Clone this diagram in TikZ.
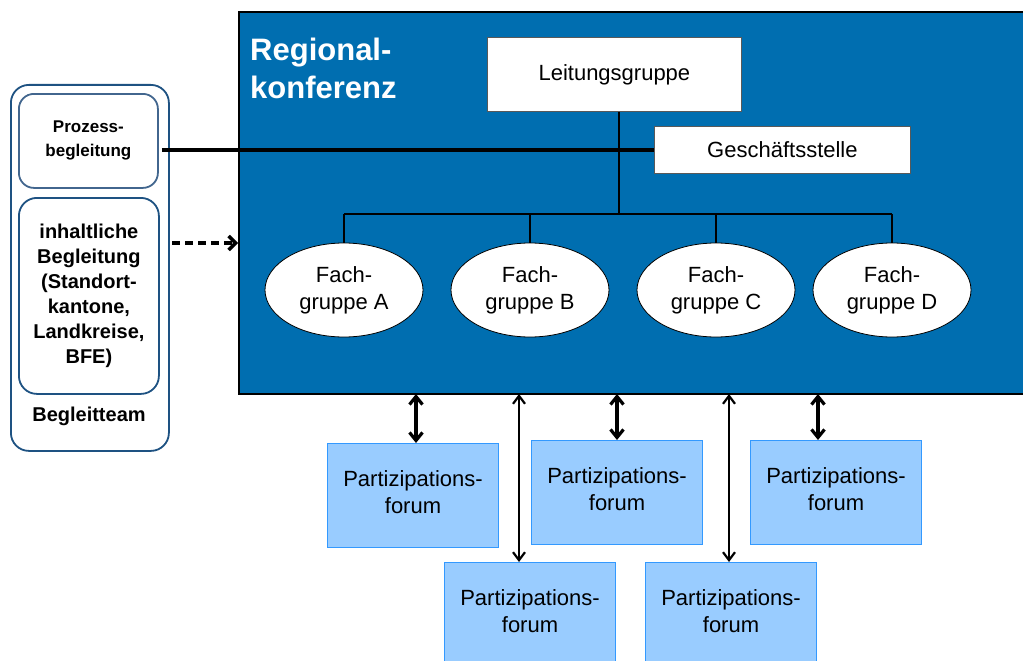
\documentclass[tikz,border=0pt]{standalone}
\usepackage{fontspec}
\setmainfont{Liberation Sans}
\usetikzlibrary{arrows.meta,shapes.geometric}
\definecolor{rkblue}{RGB}{0,110,176}
\definecolor{forumfill}{RGB}{153,204,255}
\definecolor{forumdraw}{RGB}{51,153,255}
\definecolor{navy}{RGB}{30,82,130}
\definecolor{slate}{RGB}{66,102,142}
\tikzset{
  whitebox/.style={draw=black!65, line width=0.8pt, fill=white, inner sep=0pt, anchor=north west,
    font=\fontsize{22}{27}\selectfont},
  fgroup/.style={ellipse, draw=black, line width=0.8pt, fill=white, minimum width=158pt, minimum height=94pt,
    inner sep=0pt, align=center, font=\fontsize{22}{27}\selectfont},
  forum/.style={draw=forumdraw, line width=1pt, fill=forumfill, anchor=north west, minimum width=171pt,
    minimum height=104pt, inner sep=0pt, align=center, font=\fontsize{22}{27}\selectfont, text depth=6pt},
  tree/.style={line width=1.6pt, draw=black},
  biarrow/.style={line width=3.2pt, {Straight Barb[length=8pt,width=13pt]}-{Straight Barb[length=8pt,width=13pt]}},
  biarrowthin/.style={line width=2.2pt, {Straight Barb[length=8pt,width=12pt]}-{Straight Barb[length=8pt,width=12pt]}},
  teambox/.style={rounded corners=18pt, line width=1.8pt, inner sep=0pt, anchor=north west, align=center,
    font=\bfseries\fontsize{20}{25}\selectfont},
}
\begin{document}
\begin{tikzpicture}[x=1pt,y=-1pt]
\useasboundingbox (0,0) rectangle (1023,661);
% Regionalkonferenz
\node[draw=black, line width=1.8pt, fill=rkblue, anchor=north west, minimum width=790pt, minimum height=382pt, inner sep=0pt] (rk) at (238,11) {};
\node[anchor=north west, inner sep=0pt, align=left, text=white, font=\bfseries\fontsize{31}{38}\selectfont] (title) at (250,38) {Regional-\\konferenz};
\node[whitebox, minimum width=254pt, minimum height=74pt] (lg) at (487,37) {Leitungsgruppe};
\node[whitebox, minimum width=256pt, minimum height=47pt] (gs) at (654,126) {Geschäftsstelle};
% Fachgruppen
\node[fgroup] (fa) at (344,290) {Fach-\\gruppe A};
\node[fgroup] (fb) at (530,290) {Fach-\\gruppe B};
\node[fgroup] (fc) at (716,290) {Fach-\\gruppe C};
\node[fgroup] (fd) at (892,290) {Fach-\\gruppe D};
\coordinate (j) at (619,214);
\draw[tree] (lg.south -| j) -- (j);
\draw[tree] (fa.north |- j) -- (fd.north |- j);
\foreach \n in {fa,fb,fc,fd} \draw[tree] (\n.north |- j) -- (\n.north);
% Begleitteam
\node[teambox, draw=navy, minimum width=158pt, minimum height=366pt] (bt) at (10,84) {};
\node[teambox, draw=slate, rounded corners=15pt, minimum width=139pt, minimum height=94pt, font=\bfseries\fontsize{17}{24}\selectfont] (pb) at (18,93) {Prozess-\\begleitung};
\node[teambox, draw=navy, minimum width=140pt, minimum height=196pt] (ib) at (18,197) {inhaltliche\\Begleitung\\(Standort-\\kantone,\\Landkreise,\\BFE)};
\node[font=\bfseries\fontsize{20}{25}\selectfont, inner sep=0pt] (btl) at (89,416) {Begleitteam};
\draw[line width=3.5pt] ([xshift=3pt]pb.east |- gs.west) -- (gs.west);
\coordinate (da) at (172,243);
\draw[line width=3.5pt, dash pattern=on 8pt off 5pt, -{Straight Barb[length=7pt,width=14pt]}] (da) -- (da -| rk.west);
% Partizipationsforen
\node[forum] (f1) at (327,443) {Partizipations-\\forum};
\node[forum] (f2) at (531,440) {Partizipations-\\forum};
\node[forum] (f3) at (750,440) {Partizipations-\\forum};
\node[forum] (f4) at (444,562) {Partizipations-\\forum};
\node[forum] (f5) at (645,562) {Partizipations-\\forum};
\coordinate (a1) at (416,393);
\coordinate (a4) at (519,393);
\coordinate (a2) at (617,393);
\coordinate (a5) at (729,393);
\coordinate (a3) at (818,393);
\draw[biarrow] ([yshift=-1pt]a1) -- (a1 |- f1.north);
\draw[biarrow] ([yshift=-1pt]a2) -- (a2 |- f2.north);
\draw[biarrow] ([yshift=-1pt]a3) -- (a3 |- f3.north);
\draw[biarrowthin] ([yshift=-1pt]a4) -- (a4 |- f4.north);
\draw[biarrowthin] ([yshift=-1pt]a5) -- (a5 |- f5.north);
\end{tikzpicture}
\end{document}
